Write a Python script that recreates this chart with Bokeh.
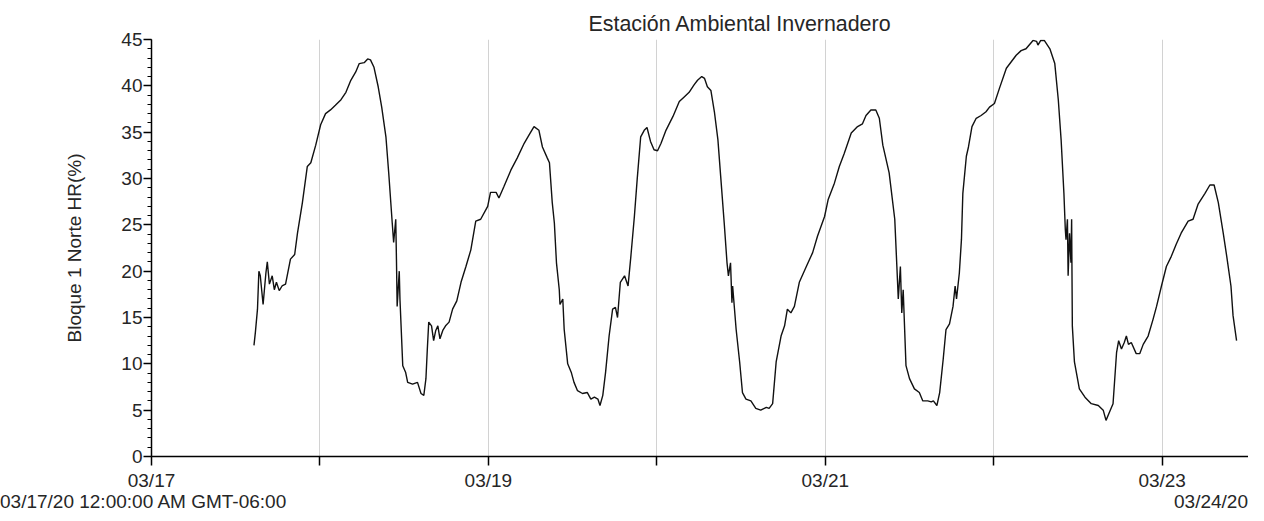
from bokeh.plotting import figure
from bokeh.models import Range1d, FixedTicker, SingleIntervalTicker, Div
from bokeh.layouts import column
from bokeh.embed import file_html
from bokeh.resources import INLINE

# ---- data (hours since 03/17/20 00:00, relative humidity %) ----
hours = [14.6, 14.8, 15.1, 15.3, 15.5, 15.9, 16.3, 16.5, 16.8, 17.2, 17.5, 17.8, 18.2, 18.6, 19.1,
         19.8, 20.4, 20.8, 21.5, 22.2, 22.7, 23.4, 24.1, 24.8, 25.5, 26.2, 27.0, 27.7, 28.4, 29.1,
         29.6, 30.3, 30.8, 31.2, 31.7, 32.3, 32.8, 33.4, 33.8, 34.3, 34.5, 34.8, 34.9, 35.0, 35.3,
         35.4, 35.8, 36.2, 36.5, 37.2, 37.9, 38.4, 38.8, 39.1, 39.3, 39.5, 39.9, 40.2, 40.5, 40.8,
         41.1, 41.5, 41.9, 42.4, 42.9, 43.5, 44.1, 44.8, 45.5, 46.2, 46.9, 47.9, 48.3, 49.1, 49.5,
         50.2, 51.2, 52.1, 53.1, 53.8, 54.5, 55.2, 55.7, 56.4, 56.7, 57.1, 57.4, 57.7, 58.1, 58.2,
         58.6, 58.8, 59.3, 59.8, 60.2, 60.7, 61.4, 62.1, 62.6, 63.1, 63.6, 63.9, 64.3, 64.7, 65.2,
         65.7, 66.1, 66.4, 66.8, 67.4, 67.9, 68.3, 68.8, 69.2, 69.7, 70.2, 70.6, 71.1, 71.6, 72.1,
         72.6, 73.3, 74.3, 75.2, 75.9, 76.6, 77.3, 77.8, 78.4, 78.8, 79.2, 79.7, 80.2, 80.7, 81.1,
         81.6, 82.0, 82.2, 82.5, 82.7, 82.8, 83.3, 83.8, 84.2, 84.7, 85.4, 86.1, 86.8, 87.6, 88.0,
         88.5, 89.0, 89.7, 90.2, 90.6, 91.1, 91.6, 92.3, 93.3, 94.2, 94.9, 95.9, 96.4, 97.3, 98.0,
         98.7, 99.7, 100.6, 101.3, 101.8, 102.5, 103.2, 103.7, 104.2, 105.1, 105.9, 106.2, 106.4,
         106.7, 106.9, 107.1, 107.5, 108.0, 108.7, 109.4, 109.9, 110.6, 111.1, 111.4, 111.9, 112.3,
         112.8, 113.2, 113.7, 114.2, 114.5, 114.7, 115.1, 115.4, 115.6, 116.1, 116.4, 116.9, 117.5,
         118.2, 118.9, 119.4, 120.1, 120.8, 121.8, 122.5, 123.2, 123.9, 124.6, 125.6, 126.1, 126.3,
         126.7, 127.2, 128.0, 128.7, 129.2, 129.6, 130.0, 130.2, 130.3, 130.5, 130.6, 130.8, 131.0,
         131.1, 131.2, 131.5, 132.2, 133.0, 133.9, 134.9, 135.6, 136.0, 136.5, 137.0, 137.5, 137.8,
         138.2, 138.6, 138.9, 139.2, 139.6, 140.3, 140.8, 141.3, 142.0, 142.7, 143.2, 143.9, 144.6,
         145.3, 146.0, 146.7, 147.7, 148.4, 149.1, 150.1, 150.8, 151.4, 152.0, 152.7, 153.2, 153.8,
         154.1, 154.6]
humidity = [12.0, 13.4, 15.9, 20.0, 19.5, 16.4, 19.8, 21.0, 18.6, 19.5, 18.0, 18.8, 17.9, 18.4, 18.6,
            21.3, 21.8, 24.1, 27.4, 31.3, 31.7, 33.6, 35.8, 37.0, 37.4, 37.9, 38.5, 39.3, 40.6, 41.5,
            42.4, 42.5, 42.9, 42.8, 42.0, 39.9, 37.7, 34.5, 30.6, 25.2, 23.1, 25.6, 21.3, 16.2, 20.0,
            17.0, 9.8, 9.1, 8.0, 7.8, 8.0, 6.8, 6.6, 8.4, 11.6, 14.5, 14.1, 12.5, 13.6, 14.1,
            12.7, 13.6, 14.1, 14.5, 15.9, 16.8, 18.8, 20.5, 22.3, 25.4, 25.6, 27.0, 28.5, 28.5, 27.9,
            29.1, 30.9, 32.2, 33.8, 34.7, 35.6, 35.2, 33.4, 32.2, 31.7, 27.4, 25.2, 20.9, 18.0, 16.4,
            17.0, 13.7, 10.0, 9.1, 8.0, 7.1, 6.8, 6.9, 6.2, 6.4, 6.2, 5.5, 6.6, 9.1, 13.0,
            15.9, 16.1, 15.0, 18.8, 19.5, 18.4, 21.6, 25.9, 29.9, 34.5, 35.2, 35.5, 34.0, 33.1, 33.0,
            33.8, 35.2, 36.7, 38.3, 38.8, 39.3, 40.1, 40.6, 41.0, 40.8, 39.9, 39.5, 37.2, 34.2, 30.2,
            25.2, 20.9, 19.5, 20.9, 16.6, 18.4, 13.7, 10.2, 6.9, 6.2, 6.0, 5.2, 5.0, 5.3, 5.2,
            5.7, 10.2, 13.0, 14.1, 15.9, 15.5, 16.2, 18.8, 20.5, 22.0, 23.8, 25.9, 27.7, 29.5, 31.3,
            32.7, 34.9, 35.6, 35.9, 36.8, 37.4, 37.4, 36.5, 33.6, 30.6, 25.6, 20.5, 17.0,
            20.5, 15.5, 18.0, 9.8, 8.4, 7.3, 6.9, 6.0, 6.0, 5.9, 6.0, 5.5, 6.9,
            10.5, 13.7, 14.3, 16.2, 18.4, 17.0, 19.8, 23.4, 28.4, 32.4, 33.4, 35.6, 36.5,
            36.8, 37.2, 37.7, 38.1, 39.7, 41.9, 42.6, 43.3, 43.8, 44.0, 44.9, 44.8, 44.4,
            44.9, 44.9, 44.0, 42.4, 38.5, 34.2, 28.4, 24.5, 23.4, 25.6, 19.5, 24.1, 20.9,
            25.6, 14.1, 10.2, 7.3, 6.4, 5.7, 5.5, 5.0, 3.9, 4.8, 5.7, 11.2, 12.5,
            11.6, 12.3, 13.0, 12.1, 12.3, 11.1, 11.1, 12.1, 13.0, 14.8, 16.2, 18.4, 20.5,
            21.6, 22.9, 24.1, 25.4, 25.6, 27.2, 28.4, 29.3, 29.3, 27.4, 24.1, 21.6, 18.4,
            15.2, 12.5]

title_text = "Estación Ambiental Invernadero"
y_label = "Bloque 1 Norte HR(%)"
day_ticks = [0, 24, 48, 72, 96, 120, 144]
day_labels = ["03/17", "", "03/19", "", "03/21", "", "03/23"]
start_note = "03/17/20 12:00:00 AM GMT-06:00"
end_note = "03/24/20"
x_end = 156.3
y_min, y_max = 0, 45

FONT = "Liberation Sans"
TXT = "#262626"

p = figure(width=1248, height=493, output_backend="svg", toolbar_location=None,
           x_range=Range1d(0, x_end), y_range=Range1d(y_min, y_max),
           min_border_left=151, min_border_right=0, min_border_top=39, min_border_bottom=35)
p.outline_line_color = None
p.background_fill_color = "white"
p.border_fill_color = "white"

p.title.text = title_text
p.title.align = "left"
p.title.offset = 437
p.title.standoff = 8
p.title.text_font = FONT
p.title.text_font_size = "21.4px"
p.title.text_font_style = "normal"
p.title.text_color = TXT

p.line(hours, humidity, line_color="#111111", line_width=1.4)

# grid
p.xgrid.ticker = FixedTicker(ticks=day_ticks)
p.xgrid.grid_line_color = "#d2d2d2"
p.xgrid.grid_line_width = 1
p.ygrid.visible = False

# x axis
xa = p.xaxis[0]
xa.ticker = FixedTicker(ticks=day_ticks, minor_ticks=[])
xa.major_label_overrides = dict(zip(day_ticks, day_labels))
xa.axis_line_color = "black"
xa.axis_line_width = 1.5
xa.major_tick_line_color = "black"
xa.major_tick_line_width = 1.5
xa.major_tick_in = 0
xa.major_tick_out = 9
xa.minor_tick_line_color = None
xa.major_label_standoff = 4
xa.major_label_text_font = FONT
xa.major_label_text_font_size = "19px"
xa.major_label_text_color = TXT

# y axis
ya = p.yaxis[0]
ya.ticker = SingleIntervalTicker(interval=5, num_minor_ticks=5)
ya.axis_line_color = "black"
ya.axis_line_width = 1.5
ya.major_tick_line_color = "black"
ya.major_tick_line_width = 1.5
ya.major_tick_in = 0
ya.major_tick_out = 8
ya.minor_tick_line_color = "black"
ya.minor_tick_line_width = 1.2
ya.minor_tick_in = 0
ya.minor_tick_out = 4
ya.major_label_standoff = 1
ya.major_label_text_font = FONT
ya.major_label_text_font_size = "19px"
ya.major_label_text_color = TXT
ya.axis_label = y_label
ya.axis_label_text_font = FONT
ya.axis_label_text_font_size = "19px"
ya.axis_label_text_font_style = "normal"
ya.axis_label_text_color = TXT
ya.axis_label_standoff = 33

notes_html = (
    '<div style="display:flex;justify-content:space-between;width:1248px;'
    "font-family:'Liberation Sans',Arial,sans-serif;font-size:19px;color:%s;"
    'line-height:12px;white-space:nowrap;position:relative;top:3px;">'
    '<span>%s</span><span>%s</span></div>' % (TXT, start_note, end_note)
)
notes = Div(text=notes_html, width=1248, height=12, margin=(0, 0, 0, 0))

layout = column(p, notes, spacing=0)
open("out.html", "w").write(file_html(layout, INLINE))
